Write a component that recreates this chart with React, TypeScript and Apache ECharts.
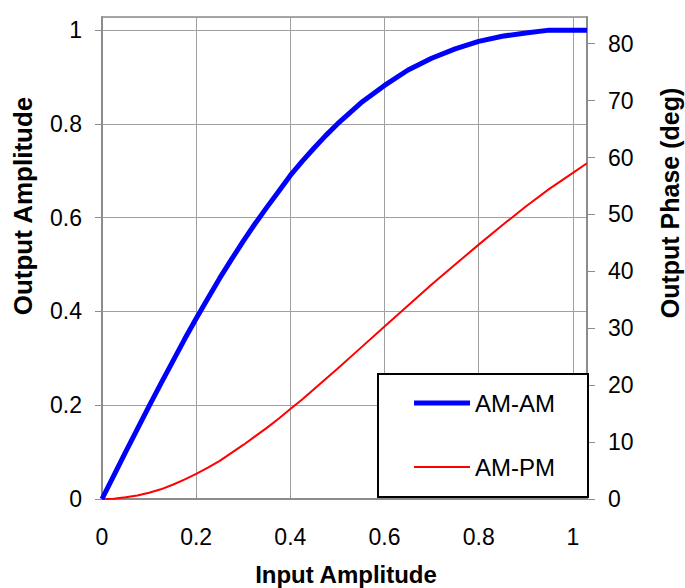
import React, { useEffect, useRef } from "react";
import * as echarts from "echarts";

const inputAmplitude = [
  0, 0.025, 0.05, 0.075, 0.1, 0.125, 0.15, 0.175, 0.2, 0.225, 0.25, 0.275, 0.3, 0.325, 0.35, 0.375,
  0.4, 0.425, 0.45, 0.475, 0.5, 0.55, 0.6, 0.65, 0.7, 0.75, 0.8, 0.85, 0.9, 0.95, 1.0, 1.03,
];
const amAm = [
  0, 0.05, 0.1, 0.149, 0.198, 0.246, 0.293, 0.34, 0.385, 0.428, 0.471, 0.511, 0.55, 0.587, 0.622, 0.656,
  0.69, 0.72, 0.748, 0.775, 0.8, 0.845, 0.882, 0.915, 0.94, 0.96, 0.976, 0.987, 0.994, 1.0, 1.0, 1.0,
];
const amPm = [
  0, 0.05, 0.3, 0.6, 1.1, 1.7, 2.5, 3.4, 4.4, 5.5, 6.7, 8.1, 9.5, 11.0, 12.5, 14.1,
  15.8, 17.5, 19.3, 21.1, 22.9, 26.6, 30.3, 34.0, 37.7, 41.2, 44.7, 48.1, 51.4, 54.5, 57.3, 59.0,
];
const seriesNames = ["AM-AM", "AM-PM"];
const axisTitles = ["Input Amplitude", "Output Amplitude", "Output Phase (deg)"];

const FONT = "'Liberation Sans', Arial, Helvetica, sans-serif";

export default function App() {
  const ref = useRef<HTMLDivElement>(null);
  useEffect(() => {
    if (!ref.current) return;
    const chart = echarts.init(ref.current, undefined, { renderer: "svg" });
    const gray = "#8c8c8c";
    const labelStyle = { color: "#000", fontSize: 23, fontFamily: FONT };
    const titleStyle = (text: string, size: number) => ({
      text,
      font: `bold ${size}px ${FONT}`,
      fill: "#000",
      align: "center",
      verticalAlign: "middle",
      textAlign: "center",
      textVerticalAlign: "middle",
    });
    chart.setOption({
      animation: false,
      backgroundColor: "#fff",
      grid: {
        left: 102,
        top: 17,
        right: 98,
        bottom: 89,
        show: true,
        borderColor: gray,
        borderWidth: 1.5,
        backgroundColor: "transparent",
      },
      legend: {
        data: [
          { name: seriesNames[0], icon: "path://M0,0 H56 V5 H0 Z", itemStyle: { color: "#0000ff" } },
          { name: seriesNames[1], icon: "path://M0,0 H56 V2 H0 Z", itemStyle: { color: "#ff0000" } },
        ],
        orient: "vertical",
        left: 378,
        top: 374,
        padding: [17, 33, 18, 36],
        itemWidth: 56,
        itemHeight: 24,
        itemGap: 40,
        symbolKeepAspect: true,
        borderColor: "#000",
        borderWidth: 2,
        backgroundColor: "#fff",
        textStyle: { color: "#000", fontSize: 24, fontFamily: FONT },
      },
      xAxis: {
        type: "value",
        min: 0,
        max: 1.03,
        interval: 0.2,
        axisLine: { show: true, lineStyle: { color: gray, width: 2 } },
        axisTick: { show: true, inside: true, length: 4, lineStyle: { color: gray } },
        axisLabel: { ...labelStyle, margin: 26, showMaxLabel: false },
        splitLine: { show: true, lineStyle: { color: "#a0a0a0", width: 1 } },
      },
      yAxis: [
        {
          type: "value",
          min: 0,
          max: 1.028,
          interval: 0.2,
          position: "left",
          axisLine: { show: true, lineStyle: { color: gray, width: 2 } },
          axisTick: { show: true, length: 7, lineStyle: { color: gray } },
          axisLabel: { ...labelStyle, margin: 20, showMaxLabel: false },
          splitLine: { show: true, lineStyle: { color: "#a0a0a0", width: 1 } },
        },
        {
          type: "value",
          min: 0,
          max: 84.7,
          interval: 10,
          position: "right",
          axisLine: { show: true, lineStyle: { color: gray, width: 2 } },
          axisTick: { show: true, length: 8, lineStyle: { color: gray } },
          axisLabel: { ...labelStyle, margin: 21, showMaxLabel: false },
          splitLine: { show: false },
        },
      ],
      graphic: [
        { type: "text", x: 346, y: 574, style: titleStyle(axisTitles[0], 24) },
        { type: "text", x: 23, y: 206, rotation: Math.PI / 2, style: titleStyle(axisTitles[1], 26) },
        { type: "text", x: 670, y: 203, rotation: Math.PI / 2, style: titleStyle(axisTitles[2], 25) },
      ],
      series: [
        {
          name: seriesNames[0],
          type: "line",
          yAxisIndex: 0,
          symbol: "none",
          data: inputAmplitude.map((x, i) => [x, amAm[i]]),
          lineStyle: { color: "#0000ff", width: 5 },
          itemStyle: { color: "#0000ff" },
          z: 3,
        },
        {
          name: seriesNames[1],
          type: "line",
          yAxisIndex: 1,
          symbol: "none",
          data: inputAmplitude.map((x, i) => [x, amPm[i]]),
          lineStyle: { color: "#ff0000", width: 2 },
          itemStyle: { color: "#ff0000" },
          z: 2,
        },
      ],
    });
    return () => chart.dispose();
  }, []);
  return (
    <div
      ref={ref}
      style={{ position: "fixed", left: 0, top: 0, width: 685, height: 588 }}
    />
  );
}
